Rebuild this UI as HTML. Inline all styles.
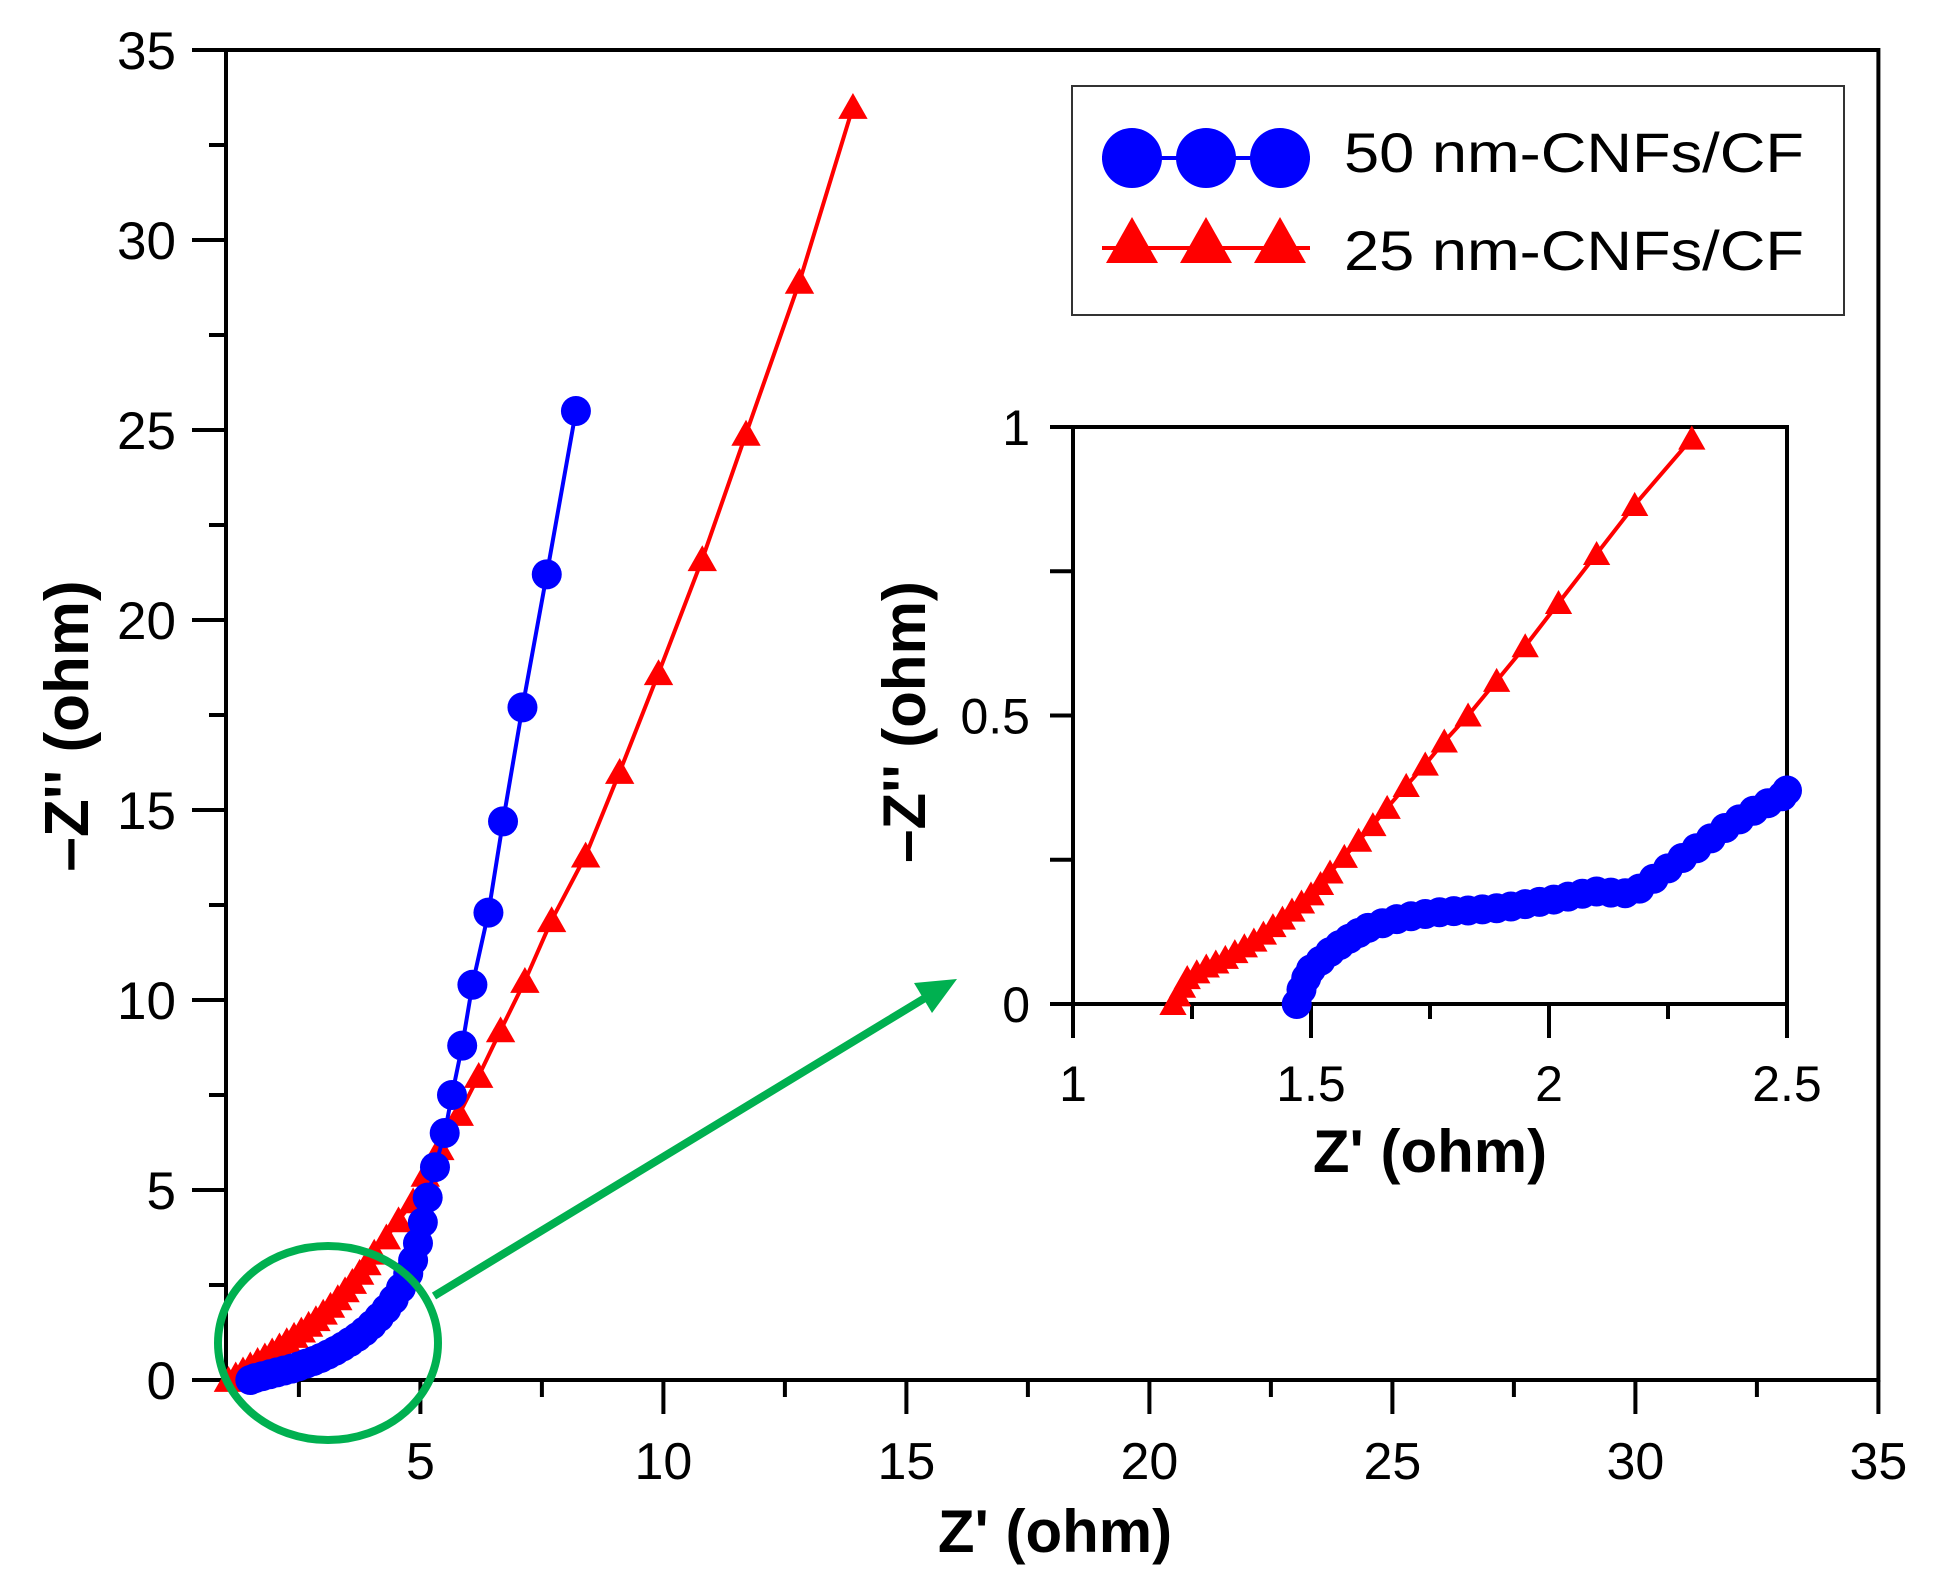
<!DOCTYPE html>
<html><head><meta charset="utf-8"><style>
html,body{margin:0;padding:0;background:#fff;}
svg{display:block;font-family:"Liberation Sans",Arial,sans-serif;}
</style></head><body>
<svg id="chart" width="1935" height="1586" viewBox="0 0 1935 1586">
<g id="main"></g>
<g id="inset"></g>
<g id="legend">
 <rect x="1072" y="86" width="772" height="229" fill="#fff" stroke="#333" stroke-width="2"/>
 <g>
  <line x1="1102" y1="158" x2="1310" y2="158" stroke="#0000ff" stroke-width="4"/>
  <circle cx="1132" cy="158" r="30" fill="#0000ff"/><circle cx="1206" cy="158" r="30" fill="#0000ff"/><circle cx="1280" cy="158" r="30" fill="#0000ff"/>
  <text x="1344" y="172" font-size="56" textLength="460" lengthAdjust="spacingAndGlyphs">50 nm-CNFs/CF</text>
 </g>
 <g>
  <line x1="1102" y1="248" x2="1310" y2="248" stroke="#ff0000" stroke-width="4"/>
  <polygon points="1132,217 1106,263 1158,263" fill="#ff0000"/><polygon points="1206,217 1180,263 1232,263" fill="#ff0000"/><polygon points="1280,217 1254,263 1306,263" fill="#ff0000"/>
  <text x="1344" y="270" font-size="56" textLength="460" lengthAdjust="spacingAndGlyphs">25 nm-CNFs/CF</text>
 </g>
</g>
<g>
 <ellipse cx="328" cy="1343" rx="110" ry="97" fill="none" stroke="#00b050" stroke-width="8"/>
 <line x1="434" y1="1296" x2="925" y2="998" stroke="#00b050" stroke-width="8"/>
 <polygon points="957,979 914,983 932,1013" fill="#00b050"/>
</g>
</svg>
<script>
// main plot data
const mainXTicks = [5,10,15,20,25,30,35];
const mainYTicks = [0,5,10,15,20,25,30,35];
const blueX = [1.5,1.6,1.75,1.9,2.05,2.2,2.35,2.5,2.65,2.8,2.95,3.1,3.25,3.4,3.55,3.7,3.85,4.0,4.15,4.3,4.45,4.6,4.75,4.85,4.95,5.05,5.15,5.3,5.5,5.65,5.86,6.07,6.4,6.7,7.1,7.6,8.2];
const blueY = [0,0.05,0.1,0.15,0.2,0.25,0.3,0.36,0.43,0.5,0.58,0.67,0.77,0.88,1.0,1.13,1.28,1.45,1.65,1.87,2.12,2.42,2.8,3.15,3.6,4.15,4.8,5.6,6.5,7.5,8.8,10.4,12.3,14.7,17.7,21.2,25.5];
const redX = [1.05,1.2,1.35,1.5,1.65,1.8,1.95,2.1,2.25,2.4,2.55,2.7,2.85,3.0,3.15,3.3,3.45,3.6,3.75,3.9,4.05,4.3,4.55,4.85,5.1,5.4,5.8,6.2,6.65,7.15,7.7,8.4,9.1,9.9,10.8,11.7,12.8,13.9];
const redY = [0,0.12,0.25,0.38,0.5,0.62,0.75,0.88,1.02,1.16,1.3,1.45,1.6,1.77,1.95,2.15,2.36,2.58,2.82,3.07,3.35,3.75,4.2,4.7,5.4,6.1,7.0,8.0,9.2,10.5,12.1,13.8,16.0,18.6,21.6,24.9,28.9,33.5];
// inset data
const insetXTicks = [1,1.5,2,2.5];
const insetYTicks = [0,0.5,1];
const iBlueX = [1.47,1.48,1.49,1.5,1.52,1.54,1.56,1.58,1.6,1.62,1.65,1.68,1.71,1.74,1.77,1.8,1.83,1.86,1.89,1.92,1.95,1.98,2.01,2.04,2.07,2.1,2.13,2.16,2.19,2.22,2.25,2.28,2.31,2.34,2.37,2.4,2.43,2.46,2.49,2.5];
const iBlueY = [0.0,0.025,0.045,0.06,0.075,0.09,0.102,0.113,0.123,0.132,0.14,0.147,0.152,0.156,0.159,0.161,0.162,0.164,0.166,0.169,0.173,0.177,0.181,0.186,0.191,0.195,0.193,0.192,0.2,0.217,0.235,0.253,0.27,0.287,0.305,0.32,0.335,0.348,0.36,0.37];
const iRedX = [1.21,1.22,1.23,1.24,1.26,1.28,1.3,1.32,1.34,1.36,1.38,1.4,1.42,1.44,1.46,1.48,1.5,1.52,1.54,1.57,1.6,1.63,1.66,1.7,1.74,1.78,1.83,1.89,1.95,2.02,2.1,2.18,2.3];
const iRedY = [0,0.015,0.03,0.045,0.055,0.065,0.072,0.08,0.09,0.1,0.11,0.122,0.135,0.148,0.162,0.176,0.19,0.208,0.228,0.255,0.283,0.31,0.34,0.378,0.415,0.455,0.5,0.56,0.62,0.695,0.78,0.865,0.98];

const NS='http://www.w3.org/2000/svg';
function mk(parent, tag, attrs){const e=document.createElementNS(NS,tag);for(const k in attrs)e.setAttribute(k,attrs[k]);parent.appendChild(e);return e;}

// main axes
const mx = v => 226 + (v-1)*48.6;
const my = v => 1380 - v*38.0;
const main = document.getElementById('main');
for(let v=2.5; v<=35.01; v+=2.5){
  const major = Math.abs(v%5)<0.01;
  const t = mk(main,'line',{x1:mx(v),x2:mx(v),y1:1380,y2:major?1414:1397,stroke:'#000','stroke-width':4});
  
  
}
for(let v=2.5; v<35; v+=2.5){
  const major = Math.abs(v%5)<0.01;
  const t = mk(main,'line',{x1:major?192:209,x2:226,y1:my(v),y2:my(v),stroke:'#000','stroke-width':4});
  
  
}
mk(main,'line',{x1:192,x2:226,y1:my(0),y2:my(0),stroke:'#000','stroke-width':4});
mk(main,'line',{x1:192,x2:226,y1:my(35),y2:my(35),stroke:'#000','stroke-width':4});
const frame = mk(main,'rect',{x:226,y:my(35),width:mx(35)-226,height:my(0)-my(35),fill:'none',stroke:'#000','stroke-width':4});


mainXTicks.forEach(v=>{
  const t=mk(main,'text',{x:mx(v),y:1479,'font-size':52,'text-anchor':'middle'});
  t.textContent=v;
  
  
});
mainYTicks.forEach(v=>{
  const t=mk(main,'text',{x:176,y:my(v)+19,'font-size':53,'text-anchor':'end'});
  t.textContent=v;
  
  
});
const xt=mk(main,'text',{x:1055,y:1552,'font-size':60,'font-weight':'bold','text-anchor':'middle'});
xt.textContent="Z' (ohm)";


const yt=mk(main,'text',{x:0,y:0,'font-size':62,'font-weight':'bold','text-anchor':'middle',transform:'translate(88,726) rotate(-90)'});
yt.textContent="\u2013Z'' (ohm)";



function series(parent, X, Y, fx, fy, color, shape, size, name){
  const g=mk(parent,'g',{});
  
  
  const pts=X.map((x,i)=>fx(x)+','+fy(Y[i])).join(' ');
  mk(g,'polyline',{points:pts,fill:'none',stroke:color,'stroke-width':4,'stroke-linejoin':'round'});
  X.forEach((x,i)=>{
    const cx=fx(x), cy=fy(Y[i]);
    let m;
    if(shape==='circle') m=mk(g,'circle',{cx:cx,cy:cy,r:size,fill:color});
    else m=mk(g,'polygon',{points:`${cx},${cy-size} ${cx-size*1.05},${cy+size*0.85} ${cx+size*1.05},${cy+size*0.85}`,fill:color});
    
    
  });
}
series(main, redX, redY, mx, my, '#ff0000','tri',14,'series-25nm');
series(main, blueX, blueY, mx, my, '#0000ff','circle',15,'series-50nm');

// inset
const ix = v => 1073 + (v-1)*476;
const iy = v => 1004 - v*577;
const inset=document.getElementById('inset');
const ib=mk(inset,'rect',{x:1073,y:427,width:714,height:577,fill:'#fff',stroke:'#000','stroke-width':4});


for(let v=1; v<=2.501; v+=0.25){
  const major=Math.abs((v*2)%1)<0.01;
  const t=mk(inset,'line',{x1:ix(v),x2:ix(v),y1:1004,y2:major?1038:1019,stroke:'#000','stroke-width':4});
  
  
}
for(let v=0; v<=1.001; v+=0.25){
  const t=mk(inset,'line',{x1:1050,x2:1073,y1:iy(v),y2:iy(v),stroke:'#000','stroke-width':4});
  
  
}
insetXTicks.forEach(v=>{
  const t=mk(inset,'text',{x:ix(v),y:1101,'font-size':50,'text-anchor':'middle'});
  t.textContent=v;
  
  
});
insetYTicks.forEach(v=>{
  const t=mk(inset,'text',{x:1030,y:iy(v)+18,'font-size':50,'text-anchor':'end'});
  t.textContent=v;
  
  
});
const ixt=mk(inset,'text',{x:1430,y:1172,'font-size':60,'font-weight':'bold','text-anchor':'middle'});
ixt.textContent="Z' (ohm)";


const iyt=mk(inset,'text',{x:0,y:0,'font-size':60,'font-weight':'bold','text-anchor':'middle',transform:'translate(925,722) rotate(-90)'});
iyt.textContent="\u2013Z'' (ohm)";


series(inset, iRedX, iRedY, ix, iy, '#ff0000','tri',13,'inset-series-25nm');
series(inset, iBlueX, iBlueY, ix, iy, '#0000ff','circle',15,'inset-series-50nm');
</script>
</body></html>
